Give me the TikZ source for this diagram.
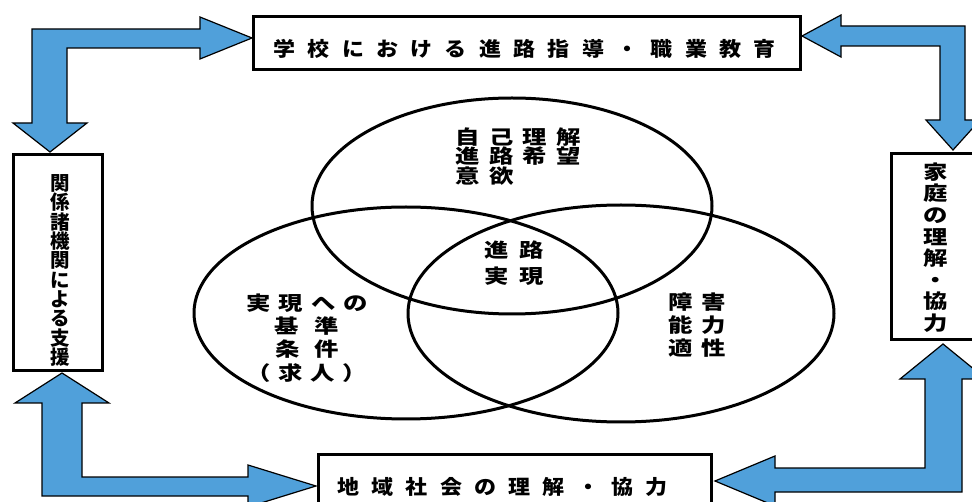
\documentclass[tikz,border=0pt]{standalone}
\usepackage{fontspec}
\setmainfont{Noto Sans CJK JP}
\definecolor{arrowblue}{RGB}{80,160,218}
\makeatletter
% set a line of characters on a fixed pitch, each glyph widened a little
\newlength\trkw
\newcommand\trkx{1.25}
\newcommand\trk[2]{\setlength\trkw{#1}\@tfor\trk@c:=#2\do{\makebox[\trkw]{\scalebox{\trkx}[1]{\trk@c}}}}
\makeatother
\begin{document}
\begin{tikzpicture}[x=1pt,y=-1pt,
  frame/.style={draw=black,line width=3pt,fill=white,inner sep=0pt},
  lbl/.style={inner sep=0pt,align=center,font={\fontsize{19.5}{23}\selectfont\bfseries}},
  ring/.style={draw=black,line width=3pt},
  blockarrow/.style={fill=arrowblue,draw=black,line width=1.2pt,line join=miter}]
\clip (0,0) rectangle (972,502);
\fill[white] (0,0) rectangle (972,502);

% L-shaped two-way block arrows between the four frames
\draw[blockarrow] (32,29) -- (200,29) -- (200,17) -- (252,38) -- (200,59) -- (200,48)
  -- (67,48) -- (67,123) -- (87,123) -- (50,152) -- (13,123) -- (32,123) -- cycle;
\draw[blockarrow] (965,26) -- (841,26) -- (841,15) -- (802,36) -- (841,57) -- (841,46)
  -- (940,46) -- (940,120) -- (926,120) -- (953,150) -- (980,120) -- (965,120) -- cycle;
\draw[blockarrow] (962,492) -- (775,492) -- (775,506) -- (715,481) -- (775,456) -- (775,468)
  -- (925,468) -- (925,379) -- (900,379) -- (943,344) -- (986,379) -- (962,379) -- cycle;
\draw[blockarrow] (42,496) -- (42,403) -- (15,403) -- (62,373) -- (109,403) -- (82,403)
  -- (82,477) -- (248,477) -- (248,465) -- (316,486) -- (248,507) -- (248,496) -- cycle;

% frames
\node[frame,minimum width=547pt,minimum height=53pt] (school) at (527,43) {};
\node[frame,minimum width=89pt,minimum height=216pt] (agencies) at (58,262.5) {};
\node[frame,minimum width=118pt,minimum height=186pt] (family) at (950.5,246.5) {};
\node[frame,minimum width=393pt,minimum height=76pt] (community) at (515,492.5) {};

\node[lbl,font={\fontsize{20}{23}\selectfont\bfseries}] (schooltxt) at (524.5,49)
  {\renewcommand\trkx{1.1}\trk{34.3pt}{学校における進路指導・職業教育}};
\node[lbl,font={\fontsize{20}{23}\selectfont\bfseries}] (communitytxt) at (502.5,487)
  {\renewcommand\trkx{1.1}\trk{34.3pt}{地域社会の理解・協力}};
\node[lbl,font={\fontsize{19.5}{19.3}\selectfont\bfseries}] (agenciestxt) at (60,270.5)
  {関\\係\\諸\\機\\関\\に\\よ\\る\\支\\援};
\node[lbl,font={\fontsize{19.5}{21.6}\selectfont\bfseries}] (familytxt) at (936,247.5)
  {\scalebox{1.25}[1]{家}\\\scalebox{1.25}[1]{庭}\\\scalebox{1.25}[1]{の}\\\scalebox{1.25}[1]{理}\\\scalebox{1.25}[1]{解}\\\scalebox{1.25}[1]{・}\\\scalebox{1.25}[1]{協}\\\scalebox{1.25}[1]{力}};

% three overlapping circles
\draw[ring] (512,206) ellipse [x radius=200pt,y radius=108pt];
\draw[ring] (406,313) ellipse [x radius=212pt,y radius=106pt];
\draw[ring] (621,313.5) ellipse [x radius=213pt,y radius=108.5pt];

\node[lbl,align=left,font={\fontsize{19.5}{19.5}\selectfont\bfseries}] (selftxt) at (518.25,156.5)
  {\trk{33.5pt}{自己理解}\\\trk{33.5pt}{進路希望}\\\trk{33.5pt}{意欲}};
\node[lbl,font={\fontsize{19.5}{26}\selectfont\bfseries}] (goaltxt) at (514,263)
  {\trk{35pt}{進路}\\\trk{35pt}{実現}};
\node[lbl,font={\fontsize{19.5}{23.3}\selectfont\bfseries}] (criteriatxt) at (307,338)
  {\trk{32.5pt}{実現への}\\\trk{40pt}{基準}\\\trk{39pt}{条件}\\\trk{32pt}{（求人）}};
\node[lbl,font={\fontsize{19.5}{23}\selectfont\bfseries}] (abilitytxt) at (697.5,325)
  {\trk{33pt}{障害}\\\trk{33pt}{能力}\\\trk{33pt}{適性}};
\end{tikzpicture}
\end{document}
